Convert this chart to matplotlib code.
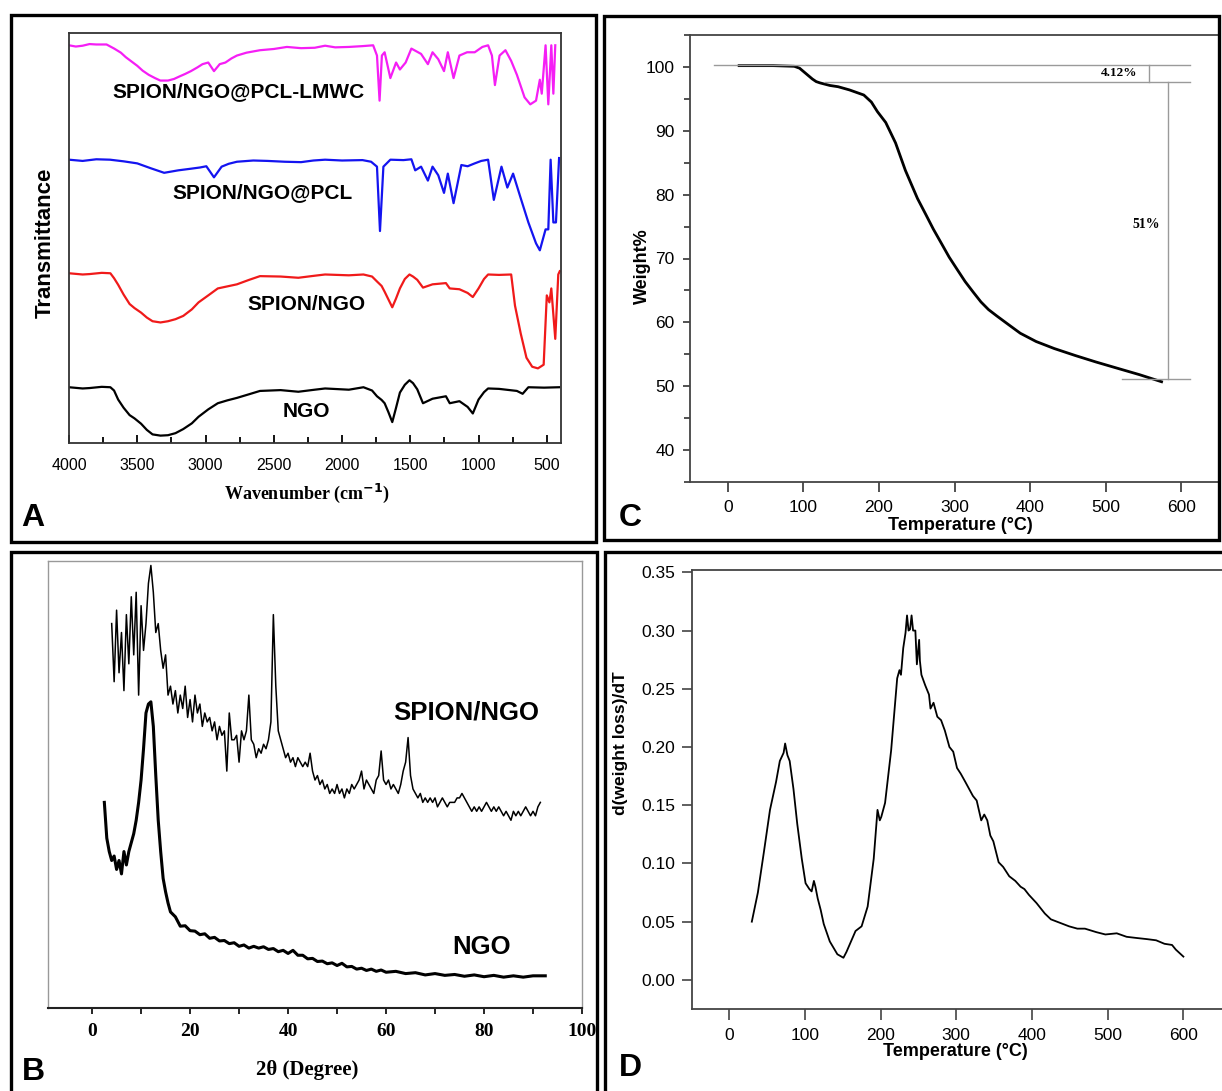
import matplotlib
matplotlib.use("Agg")
import matplotlib.pyplot as plt
from matplotlib.patches import Rectangle
from matplotlib.ticker import MultipleLocator, NullLocator

plt.rcParams['font.family'] = ['Liberation Sans', 'DejaVu Sans']

# ---- A: FTIR spectra (offset, arbitrary transmittance units) ----
ftir_labels = ['SPION/NGO@PCL-LMWC', 'SPION/NGO@PCL', 'SPION/NGO', 'NGO']
ftir_colors = ['#f51ef5', '#1414f0', '#f01a1a', '#000000']
lmwc_wn = [4000, 3950, 3900, 3850, 3800, 3725, 3669, 3620, 3584, 3540,
           3500, 3460, 3416, 3370, 3331, 3275, 3230, 3191, 3150, 3107,
           3060, 3022, 2980, 2938, 2896, 2854, 2810, 2770, 2700, 2601,
           2500, 2404, 2300, 2200, 2124, 2050, 1950, 1850, 1772, 1744,
           1725, 1708, 1688, 1646, 1604, 1576, 1534, 1492, 1421, 1371,
           1337, 1295, 1253, 1225, 1183, 1140, 1084, 1028, 972, 930,
           902, 880, 846, 803, 761, 719, 663, 621, 579, 551,
           537, 509, 489, 467, 452, 438]
lmwc_t = [97.0, 96.7, 96.9, 97.3, 97.2, 97.2, 96.2, 95.2, 94.1, 93.0,
          92.0, 90.8, 89.8, 89.0, 88.4, 88.4, 88.8, 89.4, 90.0, 90.7,
          91.6, 92.4, 92.8, 90.7, 92.4, 92.8, 93.8, 94.5, 95.2, 95.8,
          96.1, 96.6, 96.3, 96.4, 96.9, 96.5, 96.6, 96.8, 97.0, 94.5,
          83.5, 94.5, 95.3, 89.0, 92.8, 91.1, 92.8, 96.2, 94.9, 92.4,
          95.3, 93.6, 90.7, 95.3, 89.0, 94.5, 95.3, 95.3, 96.6, 97.0,
          94.5, 87.3, 94.5, 95.8, 93.2, 89.8, 84.3, 82.6, 83.5, 88.6,
          85.2, 97.0, 82.6, 97.0, 85.2, 97.0]
pcl_wn = [4000, 3900, 3800, 3700, 3600, 3500, 3400, 3303, 3200, 3107,
          3040, 2994, 2938, 2882, 2830, 2770, 2650, 2545, 2420, 2300,
          2210, 2124, 2000, 1850, 1787, 1744, 1722, 1697, 1646, 1550,
          1492, 1464, 1421, 1371, 1337, 1295, 1253, 1225, 1183, 1126,
          1080, 1028, 980, 930, 888, 832, 789, 747, 691, 635,
          579, 551, 509, 489, 472, 452, 433, 410]
pcl_t = [69.1, 68.8, 69.2, 69.1, 68.7, 68.2, 67.0, 65.9, 66.5, 66.9,
         67.2, 67.5, 64.8, 67.4, 68.1, 68.6, 68.9, 68.8, 68.6, 68.5,
         68.9, 69.1, 68.9, 69.0, 68.6, 67.4, 51.7, 67.4, 69.1, 69.0,
         69.2, 66.5, 67.4, 64.0, 67.4, 65.3, 61.0, 65.7, 58.5, 67.8,
         67.5, 68.2, 68.8, 69.1, 59.3, 67.4, 62.3, 65.7, 59.7, 53.8,
         48.7, 47.0, 52.1, 52.1, 69.1, 53.8, 53.8, 69.5]
sngo_wn = [4000, 3900, 3850, 3760, 3697, 3670, 3640, 3600, 3556, 3520,
           3472, 3430, 3388, 3330, 3275, 3220, 3163, 3100, 3051, 2980,
           2910, 2840, 2770, 2680, 2601, 2450, 2320, 2200, 2124, 1950,
           1843, 1780, 1744, 1710, 1688, 1660, 1632, 1605, 1576, 1540,
           1506, 1480, 1449, 1407, 1337, 1239, 1211, 1140, 1080, 1042,
           1000, 960, 930, 850, 761, 733, 691, 649, 607, 565,
           523, 500, 481, 467, 438, 416, 405]
sngo_t = [41.4, 41.1, 41.2, 41.5, 41.4, 40.2, 38.6, 36.2, 33.9, 32.9,
          31.8, 30.6, 29.7, 29.4, 29.7, 30.2, 31.0, 32.6, 34.3, 36.0,
          37.7, 38.2, 38.7, 39.8, 40.7, 40.6, 40.3, 40.8, 41.1, 40.9,
          41.1, 40.6, 39.4, 38.3, 36.9, 35.0, 33.1, 35.2, 37.7, 40.0,
          41.1, 40.6, 39.8, 37.9, 38.7, 39.0, 37.7, 37.5, 36.6, 35.6,
          37.7, 40.0, 41.1, 41.0, 41.1, 33.5, 26.7, 20.8, 18.6, 18.2,
          19.1, 36.0, 34.3, 37.7, 25.4, 41.1, 41.9]
ngo_wn = [4000, 3900, 3850, 3760, 3697, 3670, 3640, 3600, 3556, 3520,
          3472, 3430, 3388, 3330, 3275, 3220, 3163, 3100, 3051, 2980,
          2910, 2840, 2770, 2680, 2601, 2450, 2320, 2200, 2124, 1950,
          1843, 1780, 1744, 1710, 1688, 1660, 1632, 1605, 1576, 1540,
          1506, 1480, 1449, 1407, 1337, 1239, 1211, 1140, 1080, 1042,
          1000, 960, 930, 850, 719, 677, 635, 520, 410]
ngo_t = [13.6, 13.3, 13.4, 13.7, 13.6, 12.8, 10.6, 8.6, 6.8, 6.0,
         4.7, 3.2, 2.1, 1.8, 1.9, 2.4, 3.4, 4.8, 6.4, 8.2,
         9.7, 10.4, 11.0, 11.9, 12.7, 12.9, 12.5, 13.0, 13.3, 13.0,
         13.6, 12.8, 11.4, 10.5, 9.7, 7.5, 5.1, 8.5, 12.3, 14.2,
         15.3, 14.6, 13.1, 9.7, 10.8, 11.4, 9.7, 10.2, 8.8, 7.2,
         10.6, 12.4, 13.3, 13.2, 12.7, 12.0, 13.6, 13.5, 13.6]
ftir_label_x = [2756, 2579, 2264, 2264]
ftir_label_y = [85.6, 61.0, 33.9, 7.6]

# ---- B: XRD patterns ----
xrd_sngo_2t = [4.0, 4.5, 5.0, 5.5, 6.0, 6.5, 7.0, 7.5, 8.0, 8.5,
               9.0, 9.5, 10.0, 10.5, 11.0, 11.5, 12.0, 12.5, 13.0, 13.5,
               14.0, 14.5, 15.0, 15.5, 16.0, 16.5, 17.0, 17.5, 18.0, 18.5,
               19.0, 19.5, 20.0, 20.5, 21.0, 21.5, 22.0, 22.5, 23.0, 23.5,
               24.0, 24.5, 25.0, 25.5, 26.0, 26.5, 27.0, 27.5, 28.0, 28.5,
               29.0, 29.5, 30.0, 30.5, 31.0, 31.5, 32.0, 32.5, 33.0, 33.5,
               34.0, 34.5, 35.0, 35.5, 36.0, 36.5, 37.0, 37.5, 38.0, 38.5,
               39.0, 39.5, 40.0, 40.5, 41.0, 41.5, 42.0, 42.5, 43.0, 43.5,
               44.0, 44.5, 45.0, 45.5, 46.0, 46.5, 47.0, 47.5, 48.0, 48.5,
               49.0, 49.5, 50.0, 50.5, 51.0, 51.5, 52.0, 52.5, 53.0, 53.5,
               54.0, 54.5, 55.0, 55.5, 56.0, 56.5, 57.0, 57.5, 58.0, 58.5,
               59.0, 59.5, 60.0, 60.5, 61.0, 61.5, 62.0, 62.5, 63.0, 63.5,
               64.0, 64.5, 65.0, 65.5, 66.0, 66.5, 67.0, 67.5, 68.0, 68.5,
               69.0, 69.5, 70.0, 70.5, 71.0, 71.5, 72.0, 72.5, 73.0, 73.5,
               74.0, 74.5, 75.0, 75.5, 76.0, 76.5, 77.0, 77.5, 78.0, 78.5,
               79.0, 79.5, 80.0, 80.5, 81.0, 81.5, 82.0, 82.5, 83.0, 83.5,
               84.0, 84.5, 85.0, 85.5, 86.0, 86.5, 87.0, 87.5, 88.0, 88.5,
               89.0, 89.5, 90.0, 90.5, 91.0, 91.5]
xrd_sngo_i = [86, 73, 89, 75, 84, 71, 88, 77, 92, 79,
              93, 70, 90, 80, 86, 95, 99, 93, 84, 86,
              80, 76, 79, 70, 72, 68, 71, 66, 70, 67,
              72, 65, 69, 64, 70, 66, 68, 63, 66, 64,
              65, 62, 64, 60, 63, 61, 62, 53, 66, 60,
              60, 61, 55, 62, 60, 62, 70, 60, 59, 56,
              58, 57, 59, 58, 60, 64, 88, 72, 62, 60,
              58, 56, 57, 55, 56, 54, 56, 55, 54, 55,
              54, 57, 53, 51, 52, 50, 51, 49, 50, 48,
              49, 48, 50, 48, 49, 47, 49, 48, 50, 49,
              50, 51, 53, 49, 51, 50, 49, 48, 51, 52,
              57.5, 51, 50, 51, 49, 50, 49, 48, 50, 53,
              55, 60.5, 52, 49, 48, 47, 48, 46, 47, 46,
              47, 46, 47, 45, 46, 47, 46, 45, 46, 46,
              46, 47, 47, 48, 47, 46, 45, 44, 45, 44,
              45, 44, 45, 46, 45, 44, 45, 44, 45, 44,
              43, 44, 43, 42, 44, 43, 44, 43, 44, 45,
              44, 43, 44, 43, 45, 46]
xrd_ngo_2t = [2.5, 3.0, 3.5, 4.0, 4.5, 5.0, 5.5, 6.0, 6.5, 7.0,
              7.5, 8.0, 8.5, 9.0, 9.5, 10.0, 10.5, 11.0, 11.5, 12.0,
              12.5, 13.0, 13.5, 14.0, 14.5, 15.0, 15.5, 16.0, 17.0, 18.0,
              19.0, 20.0, 21.0, 22.0, 23.0, 24.0, 25.0, 26.0, 27.0, 28.0,
              29.0, 30.0, 31.0, 32.0, 33.0, 34.0, 35.0, 36.0, 37.0, 38.0,
              39.0, 40.0, 41.0, 42.0, 43.0, 44.0, 45.0, 46.0, 47.0, 48.0,
              49.0, 50.0, 51.0, 52.0, 53.0, 54.0, 55.0, 56.0, 57.0, 58.0,
              59.0, 60.0, 62.0, 64.0, 66.0, 68.0, 70.0, 72.0, 74.0, 76.0,
              78.0, 80.0, 82.0, 84.0, 86.0, 88.0, 90.0, 92.5]
xrd_ngo_i = [46, 38, 35, 33, 34, 31, 33, 30, 35, 32,
             35, 37, 39, 42, 46, 51, 58, 66, 68, 68.5,
             63, 52, 42, 35, 29, 26, 23.5, 21.5, 20.4, 18.3,
             18.4, 17.3, 17.2, 16.4, 16.6, 15.6, 15.8, 15.0, 15.1, 14.4,
             14.6, 13.8, 14.1, 13.4, 13.8, 13.4, 13.7, 13.1, 13.3, 12.6,
             12.9, 12.2, 12.9, 11.8, 11.8, 11.0, 11.1, 10.4, 10.5, 9.9,
             10.1, 9.5, 10.0, 9.2, 9.3, 8.7, 8.9, 8.4, 8.7, 8.2,
             8.5, 8.0, 8.2, 7.7, 7.9, 7.4, 7.7, 7.3, 7.5, 7.1,
             7.4, 7.0, 7.3, 6.9, 7.2, 6.9, 7.2, 7.2]
xrd_labels = ['SPION/NGO', 'NGO']
xrd_label_x = [76.3, 79.4]
xrd_label_y = [66.2, 13.6]

# ---- C: TGA ----
tga_temp = [15, 40, 60, 88, 95, 101, 107, 112, 117, 122, 135, 146, 161, 180,
            190, 198, 209, 222, 235, 251, 262, 272, 283, 293, 304, 314, 325,
            335, 345, 356, 372, 387, 408, 432, 460, 487, 513, 545, 574]
tga_wt = [100.2, 100.2, 100.2, 100.1, 99.8, 99.2, 98.6, 98.1, 97.7, 97.5,
          97.1, 96.9, 96.4, 95.6, 94.5, 93.0, 91.3, 88.1, 83.8, 79.4, 76.9,
          74.6, 72.3, 70.2, 68.2, 66.4, 64.7, 63.2, 62.0, 61.0, 59.6, 58.3,
          57.0, 55.9, 54.8, 53.8, 52.9, 51.8, 50.7]
tga_start_level = 100.3
tga_step1_level = 97.66
tga_final_level = 51.1

# ---- D: DTG ----
dtg_temp = [30, 38, 46, 54, 62, 67, 72, 74, 77, 80, 85, 90, 96, 101, 106, 109,
            112, 114, 117, 121, 125, 133, 143, 151, 155, 159, 167, 175, 183,
            191, 196, 199, 201, 206, 214, 222, 225, 227, 230, 233, 235, 237,
            239, 241, 243, 246, 248, 251, 252, 254, 259, 264, 266, 270, 275,
            280, 285, 291, 296, 301, 306, 312, 317, 322, 327, 333, 337, 341,
            345, 349, 356, 362, 370, 378, 385, 390, 396, 406, 417, 425, 433,
            441, 449, 460, 470, 485, 497, 512, 525, 538, 552, 564, 575, 585,
            590, 600]
dtg_val = [0.050, 0.075, 0.110, 0.146, 0.170, 0.188, 0.195, 0.203, 0.193,
           0.188, 0.164, 0.134, 0.104, 0.083, 0.078, 0.076, 0.085, 0.080,
           0.070, 0.060, 0.048, 0.033, 0.022, 0.019, 0.024, 0.030, 0.042,
           0.046, 0.063, 0.104, 0.146, 0.137, 0.140, 0.152, 0.197, 0.259,
           0.266, 0.262, 0.285, 0.298, 0.313, 0.300, 0.301, 0.313, 0.300,
           0.300, 0.271, 0.292, 0.274, 0.262, 0.253, 0.245, 0.233, 0.238,
           0.226, 0.223, 0.214, 0.200, 0.196, 0.182, 0.177, 0.170, 0.164,
           0.158, 0.154, 0.137, 0.142, 0.137, 0.124, 0.119, 0.101, 0.097,
           0.089, 0.085, 0.080, 0.078, 0.073, 0.066, 0.057, 0.052, 0.050,
           0.048, 0.046, 0.044, 0.044, 0.041, 0.039, 0.040, 0.037, 0.036,
           0.035, 0.034, 0.031, 0.030, 0.026, 0.020]

W, H = 1222, 1091
fig = plt.figure(figsize=(W / 100, H / 100), dpi=100)


def fx(px):
    return px / W


def fy(py):
    return 1 - py / H


def px_axes(l, t, r, b):
    return fig.add_axes([fx(l), fy(b), (r - l) / W, (b - t) / H])


# panel frames
for l, t, r, b in [(11, 15, 596, 542), (604, 16, 1219, 540),
                   (11, 552, 597, 1096), (605, 552, 1226, 1096)]:
    fig.add_artist(Rectangle((fx(l), fy(b)), (r - l) / W, (b - t) / H,
                             transform=fig.transFigure, fill=False,
                             edgecolor='black', linewidth=2.4))

serif_bold = dict(family=['Liberation Serif', 'DejaVu Serif'], weight='bold')

# ===== A =====
axA = px_axes(69, 33, 561, 443)
for (wn, tr), c in zip([(lmwc_wn, lmwc_t), (pcl_wn, pcl_t), (sngo_wn, sngo_t),
                        (ngo_wn, ngo_t)], ftir_colors):
    axA.plot(wn, tr, color=c, lw=1.6)
for lab, x, y in zip(ftir_labels, ftir_label_x, ftir_label_y):
    axA.text(x, y, lab, ha='center', va='center', fontsize=15, weight='bold')
axA.set_xlim(4000, 396)
axA.set_ylim(0, 100)
axA.xaxis.set_major_locator(MultipleLocator(500))
axA.xaxis.set_minor_locator(MultipleLocator(250))
axA.yaxis.set_major_locator(NullLocator())
axA.tick_params(axis='x', which='both', direction='in', top=False,
                labelsize=11.5, pad=11, width=1.3)
axA.tick_params(axis='x', which='major', length=6)
axA.tick_params(axis='x', which='minor', length=4)
for sp in axA.spines.values():
    sp.set_color('#333333')
    sp.set_linewidth(1.3)
fig.text(fx(307), fy(493), 'Wavenumber (cm$^{\\mathbf{-1}}$)', ha='center',
         va='center', fontsize=13, **serif_bold)
fig.text(fx(45), fy(243), 'Transmittance', rotation=90, ha='center',
         va='center', fontsize=16, weight='bold')
fig.text(fx(33), fy(518), 'A', ha='center', va='center', fontsize=23,
         weight='bold')

# ===== C =====
axC = px_axes(690, 35, 1219, 482)
axC.plot(tga_temp, tga_wt, color='black', lw=2)
gray = '#9a9a9a'
axC.plot([-18, 611], [tga_start_level, tga_start_level], color=gray, lw=1)
axC.plot([129, 611], [tga_step1_level, tga_step1_level], color=gray, lw=1)
axC.plot([557, 557], [tga_start_level, tga_step1_level], color=gray, lw=1)
axC.plot([582, 582], [tga_step1_level, tga_final_level], color=gray, lw=1)
axC.plot([522, 611], [tga_final_level, tga_final_level], color=gray, lw=1)
axC.text(518, 99.0, '4.12%', ha='center', va='center', fontsize=9.5,
         **serif_bold)
axC.text(553, 75.4, '51%', ha='center', va='center', fontsize=10,
         **serif_bold)
axC.set_xlim(-50, 650)
axC.set_ylim(35, 105)
axC.xaxis.set_major_locator(MultipleLocator(100))
axC.yaxis.set_major_locator(MultipleLocator(10))
axC.yaxis.set_minor_locator(MultipleLocator(5))
axC.tick_params(axis='both', which='both', direction='out', labelsize=12.5,
                width=1.2, color='#333333')
axC.tick_params(axis='x', which='major', length=7, pad=6)
axC.tick_params(axis='y', which='major', length=5, pad=6)
axC.tick_params(axis='y', which='minor', length=4)
axC.spines['right'].set_visible(False)
for sp in ['left', 'bottom', 'top']:
    axC.spines[sp].set_color('#444444')
    axC.spines[sp].set_linewidth(1.3)
fig.text(fx(960), fy(525), 'Temperature (°C)', ha='center', va='center',
         fontsize=13, weight='bold')
fig.text(fx(642), fy(266), 'Weight%', rotation=90, ha='center', va='center',
         fontsize=13, weight='bold')
fig.text(fx(630), fy(518), 'C', ha='center', va='center', fontsize=23,
         weight='bold')

# ===== B =====
axB = px_axes(48, 561, 582, 1008)
axB.plot(xrd_sngo_2t, xrd_sngo_i, color='black', lw=1.1)
axB.plot(xrd_ngo_2t, xrd_ngo_i, color='black', lw=2.2)
for lab, x, y in zip(xrd_labels, xrd_label_x, xrd_label_y):
    axB.text(x, y, lab, ha='center', va='center', fontsize=18.5,
             weight='bold')
axB.set_xlim(-9, 100)
axB.set_ylim(0, 100)
axB.xaxis.set_major_locator(MultipleLocator(20))
axB.xaxis.set_minor_locator(MultipleLocator(10))
axB.yaxis.set_major_locator(NullLocator())
axB.tick_params(axis='x', which='both', direction='out', length=4, width=1.2,
                pad=7, labelsize=14)
for lbl in axB.get_xticklabels():
    lbl.set_fontfamily(['Liberation Serif', 'DejaVu Serif'])
    lbl.set_fontweight('bold')
for sp in ['left', 'top', 'right']:
    axB.spines[sp].set_color('#999999')
    axB.spines[sp].set_linewidth(1)
axB.spines['bottom'].set_linewidth(1.5)
axB.spines['bottom'].set_color('#222222')
fig.text(fx(307), fy(1070), '2θ (Degree)', ha='center', va='center',
         fontsize=15, **serif_bold)
fig.text(fx(33), fy(1072), 'B', ha='center', va='center', fontsize=23,
         weight='bold')

# ===== D =====
axD = px_axes(692, 570, 1222, 1009)
axD.plot(dtg_temp, dtg_val, color='black', lw=1.3)
axD.set_xlim(-49, 651)
axD.set_ylim(-0.025, 0.352)
axD.xaxis.set_major_locator(MultipleLocator(100))
axD.yaxis.set_major_locator(MultipleLocator(0.05))
axD.yaxis.set_major_formatter(matplotlib.ticker.FormatStrFormatter('%.2f'))
axD.tick_params(axis='both', direction='out', labelsize=12.5, width=1.2,
                color='#444444')
axD.tick_params(axis='x', length=8, pad=6)
axD.tick_params(axis='y', length=7, pad=5)
axD.spines['right'].set_visible(False)
for sp in ['left', 'bottom', 'top']:
    axD.spines[sp].set_color('#444444')
    axD.spines[sp].set_linewidth(1.3)
fig.text(fx(955), fy(1051), 'Temperature (°C)', ha='center', va='center',
         fontsize=13, weight='bold')
fig.text(fx(620), fy(743), 'd(weight loss)/dT', rotation=90, ha='center',
         va='center', fontsize=12.5, weight='bold')
fig.text(fx(630), fy(1068), 'D', ha='center', va='center', fontsize=23,
         weight='bold')

fig.savefig('out.png', dpi=100)
